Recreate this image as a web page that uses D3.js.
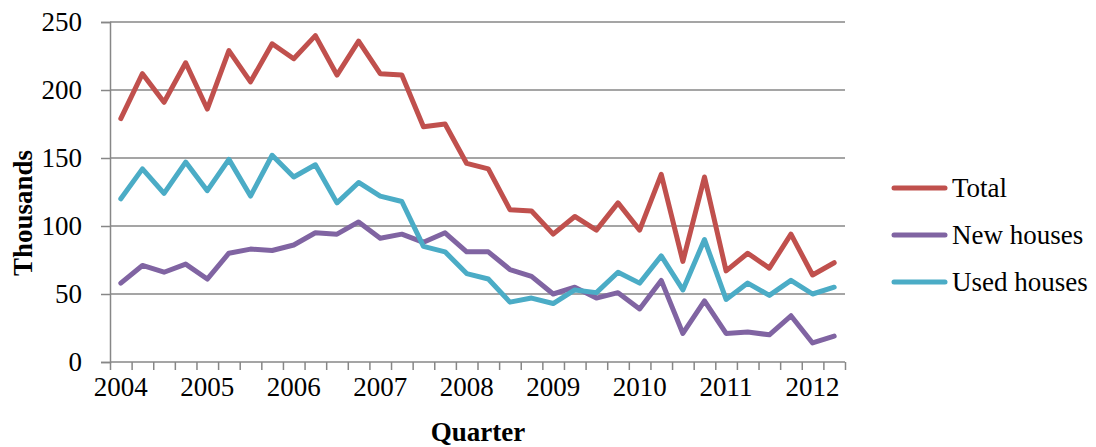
<!DOCTYPE html>
<html>
<head>
<meta charset="utf-8">
<script src="https://cdn.jsdelivr.net/npm/d3@7"></script>
<style>
  html, body { margin: 0; padding: 0; background: #fff; }
  svg { display: block; }
  text { font-family: "Liberation Serif", "Times New Roman", serif; fill: #000; }
</style>
</head>
<body>
<svg id="chart" width="1096" height="447"></svg>
<script>
// ---- data ----
const years = ["2004","2005","2006","2007","2008","2009","2010","2011","2012"];
const quarters = [];
years.forEach(y => ["Q1","Q2","Q3","Q4"].forEach(q => quarters.push(y + q)));
const categories = quarters.slice(0, 34); // 2004Q1 .. 2012Q2

const total = [179,212,191,220,186,229,206,234,223,240,211,236,212,211,173,175,146,142,112,111,94,107,97,117,97,138,74,136,67,80,69,94,64,73];
const newHouses = [58,71,66,72,61,80,83,82,86,95,94,103,91,94,88,95,81,81,68,63,50,55,47,51,39,60,21,45,21,22,20,34,14,19];
const usedHouses = [120,142,124,147,126,149,122,152,136,145,117,132,122,118,85,81,65,61,44,47,43,53,51,66,58,78,53,90,46,58,49,60,50,55];

const yTicks = [0, 50, 100, 150, 200, 250];
const seriesNames = ["Total", "New houses", "Used houses"];
const seriesValues = [total, newHouses, usedHouses];
const seriesColors = ["#C0504D", "#8064A2", "#4BACC6"];

// ---- layout ----
const svg = d3.select("#chart");
const L = 110, R = 845, T = 22, B = 362;
const axisColor = "#878787";
const fs = 27;

const x = d3.scaleBand().domain(categories).range([L, R]).paddingInner(0).paddingOuter(0);
const xIdx = d3.scaleLinear().domain([0, categories.length]).range([L, R]);
const y = d3.scaleLinear().domain([0, 250]).range([B, T]);

// gridlines
svg.append("g")
  .selectAll("line")
  .data(yTicks.filter(d => d > 0))
  .join("line")
  .attr("x1", L).attr("x2", R)
  .attr("y1", d => y(d)).attr("y2", d => y(d))
  .attr("stroke", axisColor).attr("stroke-width", 1.5);

// y axis
const yAxis = svg.append("g")
  .attr("transform", `translate(${L},0)`)
  .call(d3.axisLeft(y).tickValues(yTicks).tickSize(9).tickPadding(19).tickFormat(d3.format("d")));
yAxis.select(".domain").attr("stroke", axisColor).attr("stroke-width", 1.5);
yAxis.selectAll(".tick line").attr("stroke", axisColor).attr("stroke-width", 1.5);
yAxis.selectAll(".tick text")
  .attr("font-family", "Liberation Serif, serif")
  .attr("font-size", fs).attr("fill", "#000").attr("dy", "0.33em");

// x axis: ticks at category boundaries
const xAxis = svg.append("g")
  .attr("transform", `translate(0,${B})`)
  .call(d3.axisBottom(xIdx).tickValues(d3.range(0, categories.length + 1)).tickSize(8).tickFormat(""));
xAxis.select(".domain").attr("stroke", axisColor).attr("stroke-width", 1.5).attr("d", `M${L},0H${R}`);
xAxis.selectAll(".tick line").attr("stroke", axisColor).attr("stroke-width", 1.5);

// x labels: year at first quarter of each year
svg.append("g")
  .selectAll("text")
  .data(categories.filter((c, i) => i % 4 === 0))
  .join("text")
  .attr("x", d => x(d) + x.bandwidth() / 2)
  .attr("y", 396)
  .attr("text-anchor", "middle")
  .attr("font-size", fs)
  .text(d => d.slice(0, 4));

// axis titles
svg.append("text")
  .attr("transform", `translate(32,213) rotate(-90)`)
  .attr("text-anchor", "middle")
  .attr("font-size", fs).attr("font-weight", "bold")
  .text("Thousands");
svg.append("text")
  .attr("x", 478).attr("y", 441)
  .attr("text-anchor", "middle")
  .attr("font-size", fs).attr("font-weight", "bold")
  .text("Quarter");

// lines
const line = d3.line()
  .x((d, i) => x(categories[i]) + x.bandwidth() / 2)
  .y(d => y(d));

svg.append("g")
  .selectAll("path")
  .data(seriesValues)
  .join("path")
  .attr("d", d => line(d))
  .attr("fill", "none")
  .attr("stroke", (d, i) => seriesColors[i])
  .attr("stroke-width", 5)
  .attr("stroke-linejoin", "round")
  .attr("stroke-linecap", "round");

// legend
const legY = [188, 235, 282];
const leg = svg.append("g")
  .selectAll("g")
  .data(seriesNames)
  .join("g")
  .attr("transform", (d, i) => `translate(0,${legY[i]})`);
leg.append("line")
  .attr("x1", 894).attr("x2", 945)
  .attr("y1", 0).attr("y2", 0)
  .attr("stroke", (d, i) => seriesColors[i])
  .attr("stroke-width", 5)
  .attr("stroke-linecap", "round");
leg.append("text")
  .attr("x", 952).attr("y", 0).attr("dy", "0.33em")
  .attr("font-size", fs)
  .text(d => d);
</script>
</body>
</html>
